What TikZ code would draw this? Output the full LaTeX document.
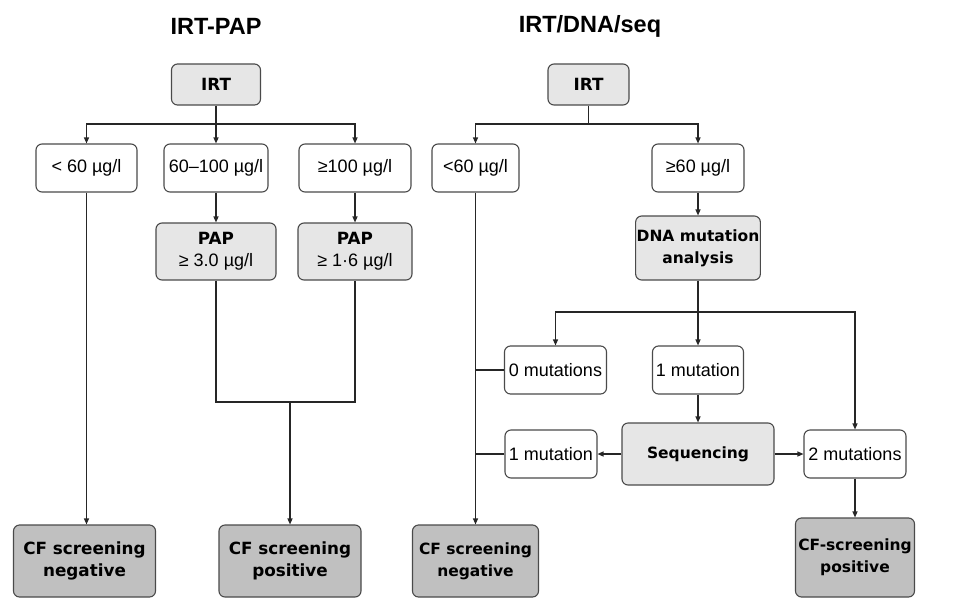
\documentclass[tikz,border=0pt]{standalone}
\usepackage{fontspec}
\setmainfont{Liberation Sans}
\newfontfamily\dvs{DejaVu Sans}
\usetikzlibrary{arrows.meta}
\definecolor{lightfill}{HTML}{E6E6E6}
\definecolor{darkfill}{HTML}{C0C0C0}
\definecolor{edge}{HTML}{4A4A4A}
\newcommand{\regf}{\normalfont\fontsize{18}{22}\selectfont}
\newcommand{\bxf}{\dvs\bfseries\fontsize{15.5}{22}\selectfont}
\newcommand{\bxl}{\dvs\bfseries\fontsize{16.8}{22}\selectfont}
\tikzset{
  box/.style={draw=edge, line width=1.1pt, rounded corners=6pt, inner sep=1pt, align=center, anchor=center},
  wbox/.style={box, fill=white, font=\regf},
  lbox/.style={box, fill=lightfill, font=\bxf},
  dbox/.style={box, fill=darkfill, font=\bxf},
  conn/.style={line width=1.2pt, draw=black!85},
  arr/.style={conn, -{Triangle[length=6pt,width=5pt]}},
  ttl/.style={font=\bfseries\fontsize{23.5}{26}\selectfont}
}
\begin{document}
\begin{tikzpicture}[x=1pt,y=-1pt]
\useasboundingbox (0,0) rectangle (970,598);
% titles
\node[ttl] (t1) at (216,26) {IRT-PAP};
\node[ttl] (t2) at (590,26) {IRT/DNA/seq};
% left panel
\node[lbox, font=\bxl, minimum width=89pt, minimum height=41pt] (LIRT) at (216,84.5) {IRT};
\node[wbox, minimum width=101pt, minimum height=48pt] (Llt) at (86.5,168) {< 60 µg/l};
\node[wbox, minimum width=104pt, minimum height=48pt] (Lmid) at (216,168) {60–100 µg/l};
\node[wbox, minimum width=112pt, minimum height=48pt] (Lge) at (355,168) {≥100 µg/l};
\node[lbox, minimum width=120pt, minimum height=57pt] (Lp1) at (216,251.5) {{\bxl PAP}\\{\regf ≥ 3.0 µg/l}};
\node[lbox, minimum width=114pt, minimum height=57pt] (Lp2) at (355,251.5) {{\bxl PAP}\\{\regf ≥ 1·6 µg/l}};
\node[dbox, font=\bxl, minimum width=142pt, minimum height=72pt] (Lneg) at (84.5,561) {CF screening\\negative};
\node[dbox, font=\bxl, minimum width=142pt, minimum height=72pt] (Lpos) at (290,561) {CF screening\\positive};
\coordinate (Lbar) at (216,124);
\coordinate (Ljoin) at (290,402);
\draw[conn] (LIRT.south) -- (Lbar);
\draw[arr] (Lbar) -| (Llt.north);
\draw[arr] (Lbar) -- (Lmid.north);
\draw[arr] (Lbar) -| (Lge.north);
\draw[arr] (Lmid.south) -- (Lp1.north);
\draw[arr] (Lge.south) -- (Lp2.north);
\draw[arr] (Llt.south) -- (Llt.south |- Lneg.north);
\draw[conn] (Lp1.south) |- (Ljoin) -| (Lp2.south);
\draw[arr] (Ljoin) -- (Lpos.north);
% right panel
\node[lbox, font=\bxl, minimum width=81pt, minimum height=41pt] (RIRT) at (588.5,84.5) {IRT};
\node[wbox, minimum width=87pt, minimum height=48pt] (Rlt) at (475.5,168) {<60 µg/l};
\node[wbox, minimum width=92pt, minimum height=48pt] (Rge) at (698,168) {≥60 µg/l};
\node[lbox, minimum width=124pt, minimum height=64pt] (Rdna) at (698,248) {DNA mutation\\analysis};
\node[wbox, minimum width=102pt, minimum height=48pt] (R0) at (555.5,370) {0 mutations};
\node[wbox, minimum width=91pt, minimum height=48pt] (R1) at (698,370) {1 mutation};
\node[lbox, minimum width=152pt, minimum height=62pt] (Rseq) at (698,454) {Sequencing};
\node[wbox, minimum width=92pt, minimum height=48pt] (R1b) at (551,454) {1 mutation};
\node[wbox, minimum width=102pt, minimum height=48pt] (R2) at (855,454) {2 mutations};
\node[dbox, minimum width=126pt, minimum height=72pt] (Rneg) at (475.5,561) {CF screening\\negative};
\node[dbox, minimum width=119pt, minimum height=79pt] (Rpos) at (855,557.5) {CF-screening\\positive};
\coordinate (Rbar) at (588.5,124);
\coordinate (Rbar2) at (698,312);
\draw[conn] (RIRT.south) -- (Rbar);
\draw[arr] (Rbar) -| (Rlt.north);
\draw[arr] (Rbar) -| (Rge.north);
\draw[arr] (Rge.south) -- (Rdna.north);
\draw[arr] (Rdna.south) -- (R1.north);
\draw[arr] (Rbar2) -| (R0.north);
\draw[arr] (Rbar2) -| (R2.north);
\draw[arr] (R1.south) -- (Rseq.north);
\draw[arr] (Rseq.west) -- (R1b.east);
\draw[arr] (Rseq.east) -- (R2.west);
\draw[arr] (R2.south) -- (Rpos.north);
\draw[arr] (Rlt.south) -- (Rlt.south |- Rneg.north);
\draw[conn] (R0.west) -- (R0.west -| Rlt.south);
\draw[conn] (R1b.west) -- (R1b.west -| Rlt.south);
\end{tikzpicture}
\end{document}
